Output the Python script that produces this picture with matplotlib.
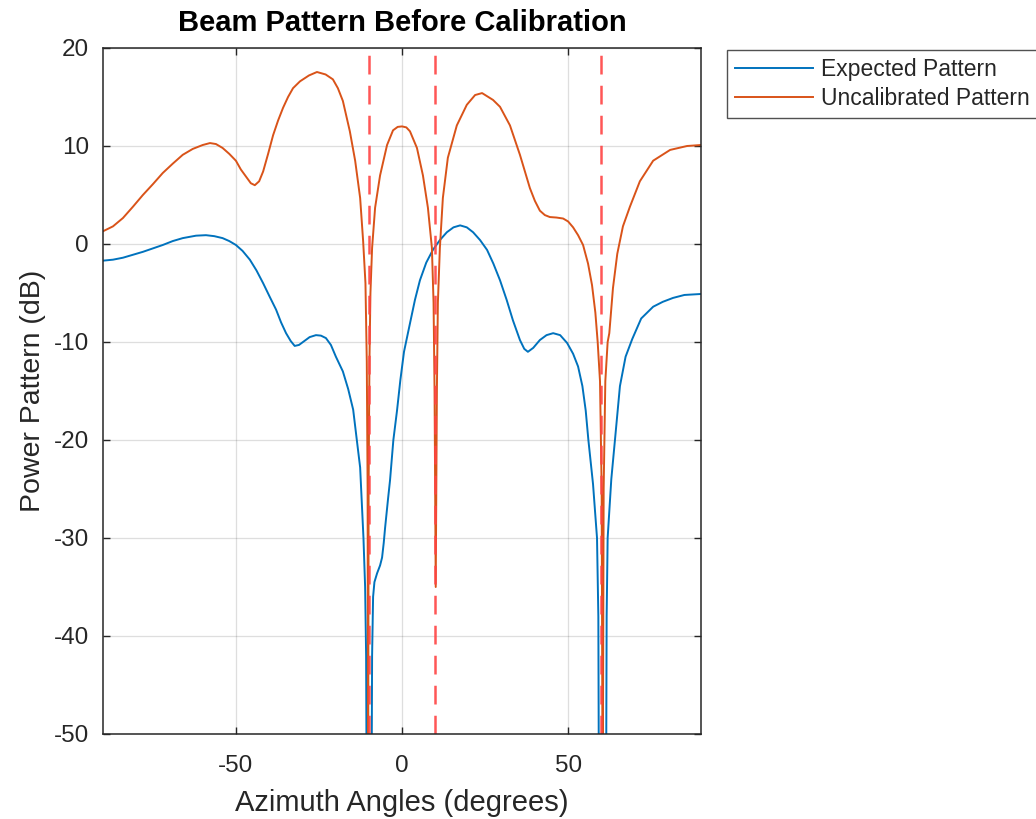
import matplotlib
matplotlib.use("Agg")
import matplotlib.pyplot as plt

# ---- data ----
exp_angles = [-90, -87, -84, -81, -78, -75, -72, -69, -66, -62, -59, -56.5, -54, -52, -50,
              -48, -45.8, -43.8, -41.8, -39.8, -37.9, -36.4, -34.9, -33.5, -32.3, -31, -29.8,
              -27.8, -25.9, -24.4, -22.9, -21.4, -19.9, -17.8, -16.2, -14.7, -13.6, -12.6,
              -11.6, -11.1, -10.8, -10.6, -9.2, -9.0, -8.7, -8.3, -7.5, -6.6, -6.0, -5.5,
              -5.1, -4.2, -3.6, -2.6, -1.5, -0.5, 0.6, 2.4, 3.9, 5.4, 7.3, 9.3, 11.4, 13.5,
              15.5, 17.5, 19.5, 21.4, 23.5, 25.6, 27.5, 29.5, 31.5, 33.4, 35.5, 36.8, 37.9,
              39.5, 41.5, 43.5, 45.5, 47.6, 49.7, 51.5, 53, 54.3, 55.3, 56.1, 57.5, 58.7,
              59.1, 59.3, 61.4, 61.6, 61.9, 63, 64.1, 65.6, 67.3, 69.3, 72, 75.6, 78.5, 81.6,
              85, 90]
exp_db = [-1.7, -1.6, -1.4, -1.1, -0.8, -0.45, -0.1, 0.3, 0.6, 0.85, 0.9, 0.8, 0.6, 0.3, -0.1,
          -0.7, -1.6, -2.7, -4.0, -5.4, -6.7, -8.0, -9.1, -9.9, -10.4, -10.3, -10.0,
          -9.5, -9.3, -9.35, -9.6, -10.3, -11.5, -13.0, -14.8, -16.9, -20, -22.8,
          -30, -35, -42, -60, -60, -42, -36, -34.5, -33.6, -32.8, -32.0, -30.5,
          -29, -26, -24.1, -20, -17, -13.9, -11, -8.1, -5.7, -3.7, -1.9, -0.6, 0.4, 1.2,
          1.7, 1.9, 1.7, 1.2, 0.4, -0.6, -2.0, -3.7, -5.7, -7.8, -9.8, -10.7, -11.0,
          -10.6, -9.8, -9.3, -9.1, -9.3, -10.1, -11.2, -12.5, -14.5, -17, -20, -24.5, -30,
          -38, -60, -60, -38, -30, -24, -20, -14.5, -11.5, -9.7, -7.6, -6.4, -5.9, -5.5,
          -5.2, -5.1]

unc_angles = [-90, -87, -84, -81, -78, -75, -72, -69, -66, -63, -60, -57.8, -56, -54, -52, -50,
              -48.5, -47, -45.5, -44.3, -43, -41.8, -40.3, -38.8, -37.3, -35.8, -34.3, -32.8,
              -30.7, -28, -25.6, -23, -20.8, -19.3, -17.8, -15.7, -14.1, -12.6, -11.7, -11.0,
              -10.6, -10.35, -10.2, -10.05, -9.8, -9.5, -9.0, -8.1, -6.6, -4.5, -2.7, -1.3, 0,
              1.3, 2.4, 4.5, 6.3, 7.8, 9.0, 9.5, 9.8, 10.15, 10.5, 10.8, 11.4, 12.3, 13.8,
              16.5, 19.5, 22, 24.1, 27.4, 29.5, 32.5, 35.5, 38.5, 40.0, 41.5, 43, 44.5, 46.5,
              48.5, 50, 51.5, 53, 54.5, 56, 57.2, 58.2, 58.9, 59.6, 60.1, 60.4, 60.7, 61.2,
              61.9, 62.4, 63.5, 64.8, 66.5, 68.6, 71.6, 75.6, 80.7, 85.8, 90]
unc_db = [1.3, 1.8, 2.65, 3.8, 5.0, 6.1, 7.25, 8.2, 9.1, 9.7, 10.1, 10.3, 10.2, 9.8, 9.2, 8.5,
          7.6, 6.9, 6.2, 6.0, 6.4, 7.4, 9.2, 11.1, 12.6, 13.9, 15.0, 15.9,
          16.6, 17.2, 17.55, 17.3, 16.8, 15.9, 14.6, 11.5, 8.5, 4.7, 0.3, -4,
          -12, -25, -60, -25, -12, -5, -0.4, 3.7, 7.0, 10.1, 11.6, 11.95, 12.0,
          11.9, 11.5, 9.8, 7.0, 3.7, -0.4, -6, -15, -35, -15, -6, -0.4, 4.7, 8.8,
          12.1, 14.2, 15.2, 15.4, 14.7, 14.0, 12.1, 9.1, 5.7, 4.4, 3.4, 2.95, 2.75, 2.7,
          2.6, 2.3, 1.7, 0.9, -0.1, -2, -4.2, -7, -10, -14, -25, -60, -25, -14,
          -10, -9.1, -4.5, -1, 1.8, 3.8, 6.4, 8.5, 9.6, 10.0, 10.1]

null_angles = [-10, 10, 60]
series_labels = ["Expected Pattern", "Uncalibrated Pattern"]
title_text = "Beam Pattern Before Calibration"
x_label = "Azimuth Angles (degrees)"
y_label = "Power Pattern (dB)"
x_ticks = [-50, 0, 50]
y_ticks = [-50, -40, -30, -20, -10, 0, 10, 20]

# ---- style ----
plt.rcParams['font.family'] = ['Liberation Sans', 'DejaVu Sans']
plt.rcParams['axes.unicode_minus'] = False
fig = plt.figure(figsize=(10.36, 8.19), dpi=100)
ax = fig.add_axes([103/1036, 1-734/819, 598/1036, 686/819])

ax.plot(exp_angles, exp_db, color='#0072BD', lw=1.4, label=series_labels[0])
ax.plot(unc_angles, unc_db, color='#D95319', lw=1.4, label=series_labels[1])
for a in null_angles:
    ax.axvline(a, color='#FF4444', lw=1.8, linestyle=(0, (7.5, 4.5)), alpha=0.9)

ax.set_xlim(-90, 90)
ax.set_ylim(-50, 20)
ax.set_xticks(x_ticks)
ax.set_yticks(y_ticks)
ax.grid(True, color='#262626', alpha=0.15, lw=0.9)
ax.set_axisbelow(True)
ax.tick_params(direction='in', length=5, width=1, colors='#262626', labelsize=17.5,
               top=True, right=True)
ax.tick_params(axis='x', pad=15)
ax.tick_params(axis='y', pad=10)
for s in ax.spines.values():
    s.set_color('#262626')
    s.set_linewidth(1.1)

ax.set_title(title_text, fontsize=21, fontweight='bold', color='black', pad=12)
ax.set_xlabel(x_label, fontsize=21, color='#262626', labelpad=9)
ax.set_ylabel(y_label, fontsize=20.5, color='#262626', labelpad=6)

leg = fig.legend(loc='upper left', bbox_to_anchor=(727/1036, 1-50/819),
                 fontsize=16.5, frameon=True, fancybox=False, handlelength=3.4,
                 handletextpad=0.35, borderpad=0.35, labelspacing=0.25, borderaxespad=0)
leg.get_frame().set_edgecolor('#262626')
leg.get_frame().set_linewidth(1.0)
for t in leg.get_texts():
    t.set_color('#262626')

fig.savefig('out.png', dpi=100)
